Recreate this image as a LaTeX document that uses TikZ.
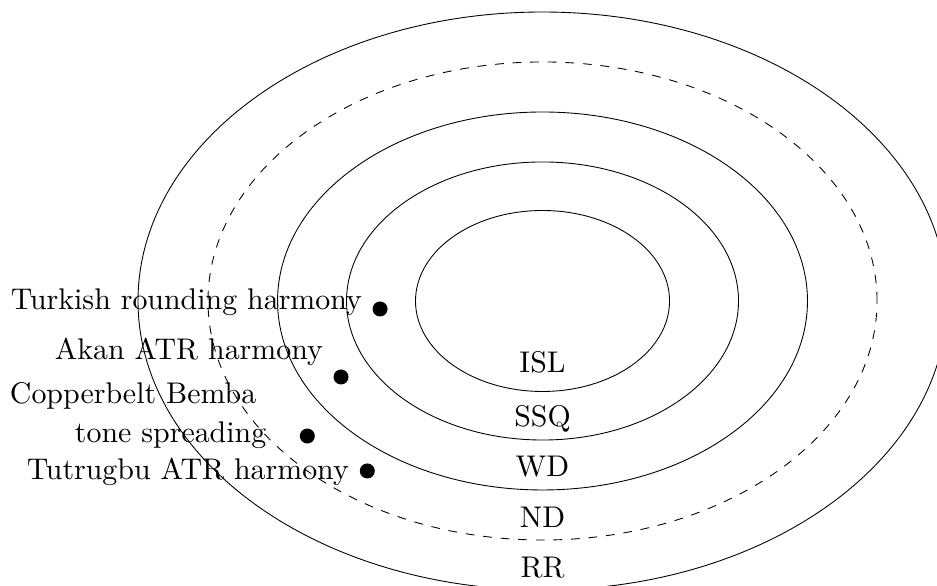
\documentclass[tikz,border=0pt]{standalone}
\usepackage{amsmath}

\begin{document}
\begin{tikzpicture}[line width=0.3pt,
            dot/.style={circle,fill,inner sep=0pt,minimum size=0.18cm},
            lab/.style={anchor=base east,inner sep=0pt,font=\fontsize{10.2}{12.3}\selectfont},
            zone/.style={anchor=base,inner sep=0pt,font=\fontsize{10.2}{12.3}\selectfont}]
            \useasboundingbox (-6.505,-3.417) rectangle (4.730,3.609);
            \draw (0,0) ellipse (1.523 and 1.085);
            \draw (0,0) ellipse (2.350 and 1.667);
            \draw (0,0) ellipse (3.177 and 2.266);
            \draw[dashed] (0,0) ellipse (4.011 and 2.866);
            \draw (0,0) ellipse (4.850 and 3.465);
            \node[zone] (isl) at (0,-0.863) {ISL};
            \node[zone] (ssq) at (0,-1.499) {SSQ};
            \node[zone] (wd) at (0,-2.110) {WD};
            \node[zone] (nd) at (0,-2.710) {ND};
            \node[zone] (rr) at (0,-3.321) {RR};
            \node[dot] (turkish) at (-1.948,-0.096) {};
            \node[dot] (akan) at (-2.416,-0.911) {};
            \node[dot] (bemba) at (-2.820,-1.619) {};
            \node[dot] (tutrugbu) at (-2.101,-2.038) {};
            \node[lab] (turkishlab) at (-2.160,-0.108) {Turkish rounding harmony};
            \node[lab] (akanlab) at (-2.628,-0.699) {Akan ATR harmony};
            \node[lab] (bembalab) at (-3.427,-1.235) {Copperbelt Bemba};
            \node[lab] (bembatone) at (-3.307,-1.691) {tone spreading};
            \node[lab] (tutrugbulab) at (-2.317,-2.146) {Tutrugbu ATR harmony};
\end{tikzpicture}
\end{document}
